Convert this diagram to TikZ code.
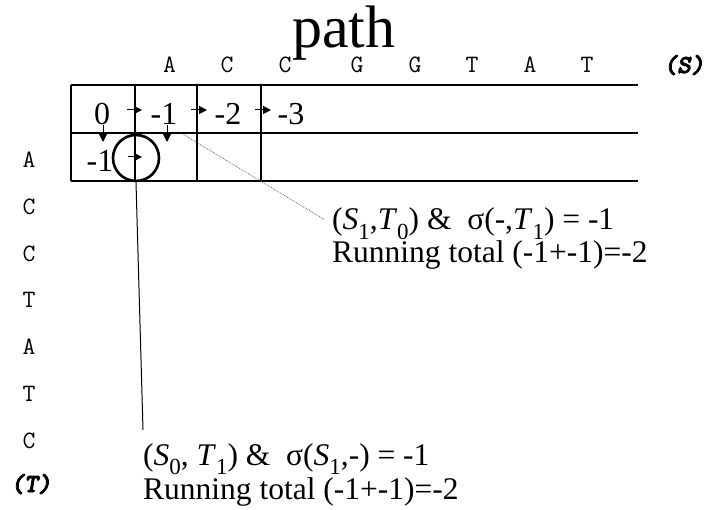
\documentclass[tikz,border=0pt]{standalone}
\usepackage{fontspec}
\setmainfont{Liberation Serif}
\newfontfamily\seqnamefont[FakeBold=3]{lmmonolt10-boldoblique.otf}
\usetikzlibrary{arrows.meta}
% lowered, fairly large subscript digits
\newcommand\lowsub[1]{\raisebox{-0.3em}{\fontsize{23}{23}\selectfont #1}}
\begin{document}
\begin{tikzpicture}[x=1pt,y=-1pt,
  gridline/.style={line width=1.1pt},
  seq/.style={font=\ttfamily\fontsize{25}{25}\selectfont, anchor=base, inner sep=0pt},
  seqname/.style={font=\seqnamefont\fontsize{26}{26}\selectfont, anchor=base, inner sep=0pt},
  score/.style={font=\fontsize{32}{32}\selectfont, anchor=base, inner sep=0pt},
  move/.style={line width=1pt, -{Triangle[length=8pt,width=8pt]}},
  note/.style={font=\fontsize{31.5}{32}\selectfont, anchor=base west, inner sep=0pt},
  leader/.style={line width=1pt},
  hint/.style={line width=0.7pt, densely dotted, black!70},
  pickring/.style={draw, circle, line width=2.6pt, minimum size=46pt, inner sep=0pt},
]
\useasboundingbox (0,0) rectangle (712,510);

% title
\node[font=\fontsize{60}{60}\selectfont, anchor=base west, inner sep=0pt] (title) at (292,48) {path};

% sequence S along the top
\foreach \c/\x [count=\i] in {A/169.5,C/227,C/285,G/357,G/415,T/472,A/530,T/587}
  \node[seq] (s\i) at (\x,73) {\c};
\node[seqname] (sname) at (684,73) {(S)};

% sequence T down the left side
\foreach \c/\y [count=\i] in {A/168,C/214.7,C/261.4,T/308,A/354.8,T/401.5,C/448.2}
  \node[seq] (t\i) at (29,\y) {\c};
\node[seqname] (tname) at (31,492) {(T)};

% score grid
\draw[gridline] (71,85) -- (638,85) (71,133) -- (638,133) (71,181) -- (638,181);
\foreach \x in {71,135,197,261}
  \draw[gridline] (\x,85) -- (\x,181);

% scores
\node[score] (c00) at (102,125) {0};
\node[score] (c01) at (164,125) {-1};
\node[score] (c02) at (228,125) {-2};
\node[score] (c03) at (291,125) {-3};
\node[score] (c10) at (100,172) {-1};

% moves between cells
\coordinate (h1a) at (127,110); \coordinate (h1b) at (142,110);
\coordinate (h2a) at (191,110); \coordinate (h2b) at (207,110);
\coordinate (h3a) at (255,110); \coordinate (h3b) at (271,110);
\coordinate (v1a) at (103,125); \coordinate (v1b) at (103,142);
\coordinate (v2a) at (167,125); \coordinate (v2b) at (167,142);
\coordinate (c1a) at (128,157); \coordinate (c1b) at (142,157);
\draw[move] (h1a) -- (h1b);
\draw[move] (h2a) -- (h2b);
\draw[move] (h3a) -- (h3b);
\draw[move] (v1a) -- (v1b);
\draw[move] (v2a) -- (v2b);

% highlighted cell
\node[pickring] (pick) at (136,158) {};
\draw[move] (c1a) -- (c1b);

% notes
\node[note] (up1) at (332,230) {(\textit{S}\lowsub{1},\textit{T}\lowsub{0}) \&~ σ(-,\textit{T}\lowsub{1}) = -1};
\node[note] (up2) at (332,263) {Running total (-1+-1)=-2};
\node[note] (lo1) at (143,465) {(\textit{S}\lowsub{0}, \textit{T}\lowsub{1}) \&~ σ(\textit{S}\lowsub{1},-) = -1};
\node[note] (lo2) at (143,499) {Running total (-1+-1)=-2};

% leaders to the notes
\coordinate (dotstart) at (181,133);
\coordinate (dotend) at (325,220);
\draw[hint] (dotstart) -- (dotend);
\coordinate (lowend) at (143,430);
\draw[leader] (pick.south) -- (lowend);
\end{tikzpicture}
\end{document}
